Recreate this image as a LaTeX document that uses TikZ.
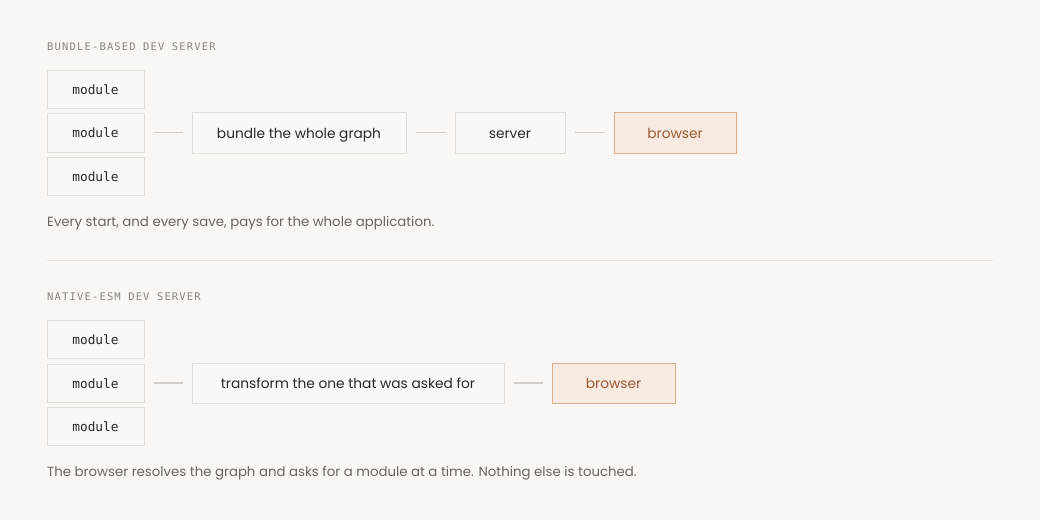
\documentclass[tikz,border=0pt]{standalone}
\usepackage{fontspec}
\setmainfont{Poppins}
\setmonofont{DejaVu Sans Mono}
\newfontfamily\headfont[LetterSpace=11]{DejaVu Sans Mono}
\definecolor{bg}{HTML}{F9F6F3}
\definecolor{boxfill}{HTML}{FAF8F6}
\definecolor{boxline}{HTML}{E3DDD7}
\definecolor{conn}{HTML}{D3CDC7}
\definecolor{hotfill}{HTML}{F8EAE0}
\definecolor{hotline}{HTML}{DCAE8E}
\definecolor{hottext}{HTML}{9A5A35}
\definecolor{headtext}{HTML}{8A8580}
\definecolor{captext}{HTML}{6A6560}
\definecolor{maintext}{HTML}{2A2725}
\definecolor{divider}{HTML}{E8E3DE}
\tikzset{
  modbox/.style={draw=boxline, fill=boxfill, line width=0.9pt, inner sep=0pt, minimum width=97pt, minimum height=38pt, text height=10.5pt, text depth=0pt, text=maintext, font=\ttfamily\fontsize{12.8}{14}\selectfont},
  stepbox/.style={draw=boxline, fill=boxfill, line width=0.9pt, inner sep=0pt, minimum height=41pt, text height=14pt, text depth=3pt, text=maintext, font=\fontsize{13.75}{16}\selectfont},
  hotbox/.style={draw=hotline, fill=hotfill, line width=0.9pt, inner sep=0pt, minimum height=41pt, text height=14pt, text depth=3pt, text=hottext, font=\fontsize{13.75}{16}\selectfont},
  link/.style={draw=conn, line width=1.1pt, shorten <=10pt, shorten >=9pt},
  heading/.style={anchor=base west, inner sep=0pt, text=headtext, font=\headfont\fontsize{10.5}{12}\selectfont},
  caption/.style={anchor=base west, inner sep=0pt, text=captext, font=\fontsize{13.3}{16}\selectfont}
}
\begin{document}
\begin{tikzpicture}[x=1pt, y=-1pt]
\fill[bg] (0,0) rectangle (1040,520);
\useasboundingbox (0,0) rectangle (1040,520);

% section 1
\node[heading] (h1) at (47,50) {BUNDLE-BASED DEV SERVER};
\node[modbox] (m1) at (95.5,89) {module};
\node[modbox, minimum height=39pt] (m2) at (95.5,132.5) {module};
\node[modbox] (m3) at (95.5,176) {module};
\node[stepbox, minimum width=214pt] (bundle) at (299,132.5) {bundle the whole graph};
\node[stepbox, minimum width=110pt] (server) at (510,132.5) {server};
\node[hotbox, minimum width=122pt] (browser1) at (675,132.5) {browser};
\draw[link] (m2.east) -- (bundle.west);
\draw[link] (bundle.east) -- (server.west);
\draw[link] (server.east) -- (browser1.west);
\node[caption] (c1) at (47,226.5) {Every start, and every save, pays for the whole application.};

% divider
\coordinate (d1) at (47,260);
\coordinate (d2) at (993,260);
\draw[divider, line width=0.9pt] (d1) -- (d2);

% section 2
\node[heading] (h2) at (47,300) {NATIVE-ESM DEV SERVER};
\node[modbox] (n1) at (95.5,339) {module};
\node[modbox] (n2) at (95.5,383) {module};
\node[modbox] (n3) at (95.5,426) {module};
\node[stepbox, minimum width=312pt, minimum height=40pt] (transform) at (348,383) {transform the one that was asked for};
\node[hotbox, minimum width=123pt, minimum height=40pt] (browser2) at (613.5,383) {browser};
\draw[link] (n2.east) -- (transform.west);
\draw[link] (transform.east) -- (browser2.west);
\node[caption] (c2) at (47,476.5) {The browser resolves the graph and asks for a module at a time. Nothing else is touched.};
\end{tikzpicture}
\end{document}
